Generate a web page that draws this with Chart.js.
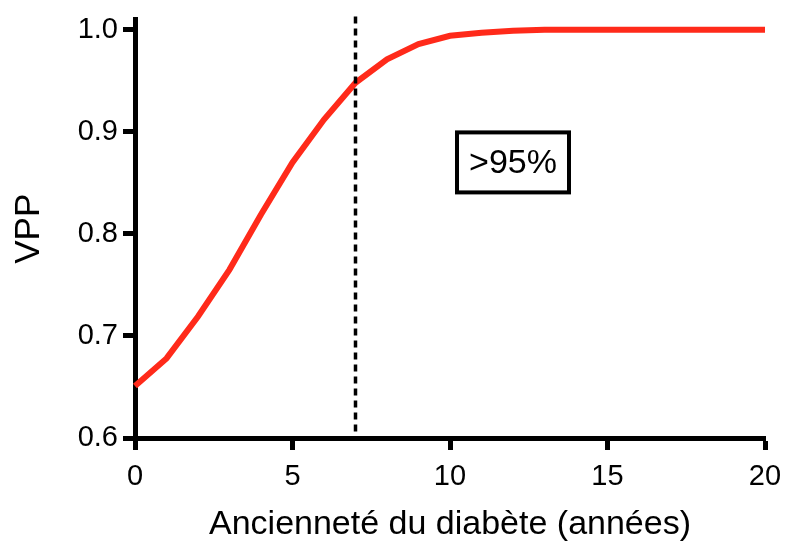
<!DOCTYPE html>
<html>
<head>
<meta charset="utf-8">
<script src="https://cdn.jsdelivr.net/npm/chart.js@4"></script>
<style>
  html, body { margin: 0; padding: 0; background: #fff; }
  #wrap { width: 785px; height: 542px; }
</style>
</head>
<body>
<div id="wrap"><canvas id="myChart" width="785" height="542"></canvas></div>
<script>
// data
const years = [0, 1, 2, 3, 4, 5, 6, 7, 8, 9, 10, 11, 12, 13, 14, 15, 16, 17, 18, 19, 20];
const vpp = [0.651, 0.678, 0.719, 0.765, 0.819, 0.870, 0.912, 0.948, 0.971, 0.986, 0.994, 0.997, 0.999, 1.0, 1.0, 1.0, 1.0, 1.0, 1.0, 1.0, 1.0];
const cutoffYear = 7;
const boxText = '>95%';
const boxPos = { x: 12, y: 0.87 };

const font = "'Liberation Sans', Arial, sans-serif";

// dotted cutoff line + framed label
const extras = {
  id: 'extras',
  afterDatasetsDraw(chart) {
    const ctx = chart.ctx;
    const xs = chart.scales.x, ys = chart.scales.y;
    const area = chart.chartArea;
    const cx = xs.getPixelForValue(cutoffYear);
    ctx.save();
    ctx.strokeStyle = '#000';
    ctx.lineWidth = 3.5;
    ctx.setLineDash([7, 5]);
    ctx.beginPath();
    ctx.moveTo(cx, area.top - 3);
    ctx.lineTo(cx, area.bottom);
    ctx.stroke();
    ctx.setLineDash([]);

    const bx = xs.getPixelForValue(boxPos.x);
    const by = ys.getPixelForValue(boxPos.y);
    ctx.font = '34px ' + font;
    ctx.textAlign = 'center';
    ctx.textBaseline = 'middle';
    ctx.lineWidth = 4;
    ctx.strokeRect(bx - 56, by - 30, 112, 60);
    ctx.fillStyle = '#000';
    ctx.fillText(boxText, bx, by + 1);
    ctx.restore();
  }
};

const data = {
  labels: years,
  datasets: [{
    label: 'VPP',
    data: vpp,
    borderColor: '#ff2a1a',
    backgroundColor: '#ff2a1a',
    borderWidth: 6,
    pointRadius: 0,
    tension: 0,
    borderCapStyle: 'butt',
    clip: false
  }]
};

const config = {
  type: 'line',
  data,
  options: {
    responsive: false,
    animation: false,
    layout: { padding: { top: 16, right: 0, left: 0, bottom: 0 } },
    plugins: { legend: { display: false }, tooltip: { enabled: false } },
    scales: {
      x: {
        type: 'linear',
        min: 0,
        max: 20,
        border: { display: true, color: '#000', width: 5 },
        grid: { drawOnChartArea: false, drawTicks: true, tickLength: 12, tickWidth: 5, tickColor: '#000' },
        ticks: { stepSize: 5, color: '#000', padding: 10, font: { family: font, size: 29 } },
        title: { display: true, text: 'Ancienneté du diabète (années)', color: '#000', padding: { top: 0, bottom: -3 }, font: { family: font, size: 34 } },
        afterFit(scale) {
          scale.height = 104;
          scale.paddingRight = 20;
          scale.paddingLeft = 0;
        }
      },
      y: {
        min: 0.6,
        max: 1.01,
        border: { display: true, color: '#000', width: 5 },
        grid: { drawOnChartArea: false, drawTicks: true, tickLength: 12, tickWidth: 5, tickColor: '#000' },
        ticks: {
          stepSize: 0.1,
          includeBounds: false,
          color: '#000',
          padding: 5,
          font: { family: font, size: 29, lineHeight: 1 },
          callback: v => v.toFixed(1)
        },
        title: { display: true, text: 'VPP', color: '#000', padding: { top: 8, bottom: 0 }, font: { family: font, size: 35 } },
        afterFit(scale) { scale.width = 135; }
      }
    }
  },
  plugins: [extras]
};

const myChart = new Chart(document.getElementById('myChart'), config);
</script>
</body>
</html>
